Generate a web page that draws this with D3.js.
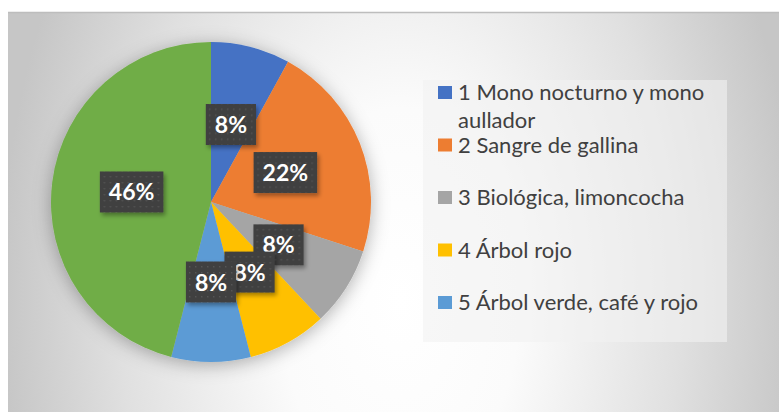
<!DOCTYPE html>
<html>
<head>
<meta charset="utf-8">
<script src="https://cdn.jsdelivr.net/npm/d3@7"></script>
<style>
  html, body { margin: 0; padding: 0; background: #ffffff; }
  svg { display: block; }
</style>
</head>
<body>
<svg id="chart" width="779" height="412"></svg>
<script>
// ---- data ----
const categories = [
  "1 Mono nocturno y mono aullador",
  "2 Sangre de gallina",
  "3 Biológica, limoncocha",
  "4 Árbol rojo",
  "5 Árbol verde, café y rojo",
  "6"
];
const values = [8, 22, 8, 8, 8, 46];
const colors = ["#4472C4", "#ED7D31", "#A5A5A5", "#FFC000", "#5B9BD5", "#70AD47"];

// ---- layout ----
const W = 779, H = 412;
const area = { x: 8, y: 12, w: W - 8, h: H - 12 };
const cx = 211, cy = 202, R = 160;
const legendBox = { x: 423, y: 80, w: 304, h: 262 };

const svg = d3.select("#chart");
const defs = svg.append("defs");

// background gradient
const bg = defs.append("radialGradient")
  .attr("id", "bgGrad")
  .attr("gradientUnits", "userSpaceOnUse")
  .attr("cx", 400).attr("cy", 300).attr("r", 400)
  .attr("gradientTransform", "translate(400,300) scale(1,1.6) translate(-400,-300)");
[[0, "#ffffff"], [0.3, "#fbfbfb"], [0.7, "#e0e0e0"], [1, "#c6c6c6"]]
  .forEach(([o, c]) => bg.append("stop").attr("offset", o).attr("stop-color", c));

// pie shadow
const pf = defs.append("filter").attr("id", "pieShadow")
  .attr("x", "-30%").attr("y", "-30%").attr("width", "160%").attr("height", "160%");
pf.append("feDropShadow").attr("dx", 0).attr("dy", 3).attr("stdDeviation", 9)
  .attr("flood-color", "#000").attr("flood-opacity", 0.3);

// label shadow
const lf = defs.append("filter").attr("id", "lblShadow")
  .attr("x", "-30%").attr("y", "-30%").attr("width", "160%").attr("height", "160%");
lf.append("feDropShadow").attr("dx", 2).attr("dy", 3).attr("stdDeviation", 2)
  .attr("flood-color", "#000").attr("flood-opacity", 0.35);

// dotted pattern for label boxes
const pat = defs.append("pattern").attr("id", "dots")
  .attr("patternUnits", "userSpaceOnUse").attr("width", 6).attr("height", 6);
pat.append("rect").attr("width", 6).attr("height", 6).attr("fill", "#404040");
pat.append("rect").attr("x", 2).attr("y", 2).attr("width", 1.4).attr("height", 1.4).attr("fill", "#555555");

defs.append("clipPath").attr("id", "legendClip")
  .append("rect").attr("x", legendBox.x).attr("y", legendBox.y)
  .attr("width", legendBox.w).attr("height", legendBox.h);

// chart area background
svg.append("rect")
  .attr("x", area.x).attr("y", area.y).attr("width", area.w).attr("height", area.h)
  .attr("fill", "url(#bgGrad)");
svg.append("line")
  .attr("x1", area.x).attr("x2", W).attr("y1", area.y + 0.5).attr("y2", area.y + 0.5)
  .attr("stroke", "#bdbdbd").attr("stroke-width", 1.5);

// ---- pie ----
const total = d3.sum(values);
const data = categories.map((c, i) => ({ cat: c, value: values[i], color: colors[i] }));
const pie = d3.pie().sort(null).value(d => d.value);
const arcs = pie(data);
const arc = d3.arc().innerRadius(0).outerRadius(R);

const gPie = svg.append("g").attr("transform", `translate(${cx},${cy})`);
gPie.append("g").attr("filter", "url(#pieShadow)")
  .selectAll("path").data(arcs).join("path")
  .attr("d", arc)
  .attr("fill", d => d.data.color);

// ---- data labels ----
const fmt = d3.format(".0%");
const gLbl = gPie.append("g");
arcs.forEach(a => {
  const [lx, ly] = arc.centroid(a);
  const g = gLbl.append("g").attr("transform", `translate(${lx},${ly})`);
  const rect = g.append("rect").attr("fill", "url(#dots)").attr("filter", "url(#lblShadow)");
  const t = g.append("text")
    .attr("text-anchor", "middle")
    .attr("y", 8.5)
    .attr("font-family", "Lato, 'Open Sans', sans-serif")
    .attr("font-weight", "bold")
    .attr("font-size", 23)
    .attr("fill", "#ffffff")
    .text(fmt(a.data.value / total));
  const tw = t.node().getComputedTextLength();
  const bw = tw + 18, bh = 41;
  rect.attr("x", -bw / 2).attr("y", -bh / 2).attr("width", bw).attr("height", bh);
});

// ---- legend ----
svg.append("rect")
  .attr("x", legendBox.x).attr("y", legendBox.y)
  .attr("width", legendBox.w).attr("height", legendBox.h)
  .attr("fill", "#f2f2f2").attr("fill-opacity", 0.6);

const gLeg = svg.append("g").attr("clip-path", "url(#legendClip)");
const step = 52.5;
const textX = legendBox.x + 35;
const maxTextW = legendBox.w - 42;
categories.forEach((c, i) => {
  const baseY = legendBox.y + 20 + i * step;
  gLeg.append("rect")
    .attr("x", legendBox.x + 15).attr("y", baseY - 14)
    .attr("width", 14).attr("height", 13)
    .attr("fill", colors[i]);
  const t = gLeg.append("text")
    .attr("x", textX).attr("y", baseY)
    .attr("font-family", "Lato, 'Open Sans', sans-serif")
    .attr("font-size", 22)
    .attr("fill", "#404040");
  // word wrap
  const words = c.split(" ");
  let line = [];
  let tspan = t.append("tspan").attr("x", textX).attr("y", baseY);
  let lineNo = 0;
  words.forEach(w => {
    line.push(w);
    tspan.text(line.join(" "));
    if (tspan.node().getComputedTextLength() > maxTextW && line.length > 1) {
      line.pop();
      tspan.text(line.join(" "));
      line = [w];
      lineNo++;
      tspan = t.append("tspan").attr("x", textX).attr("y", baseY + lineNo * 27.5).text(w);
    }
  });
});
</script>
</body>
</html>
